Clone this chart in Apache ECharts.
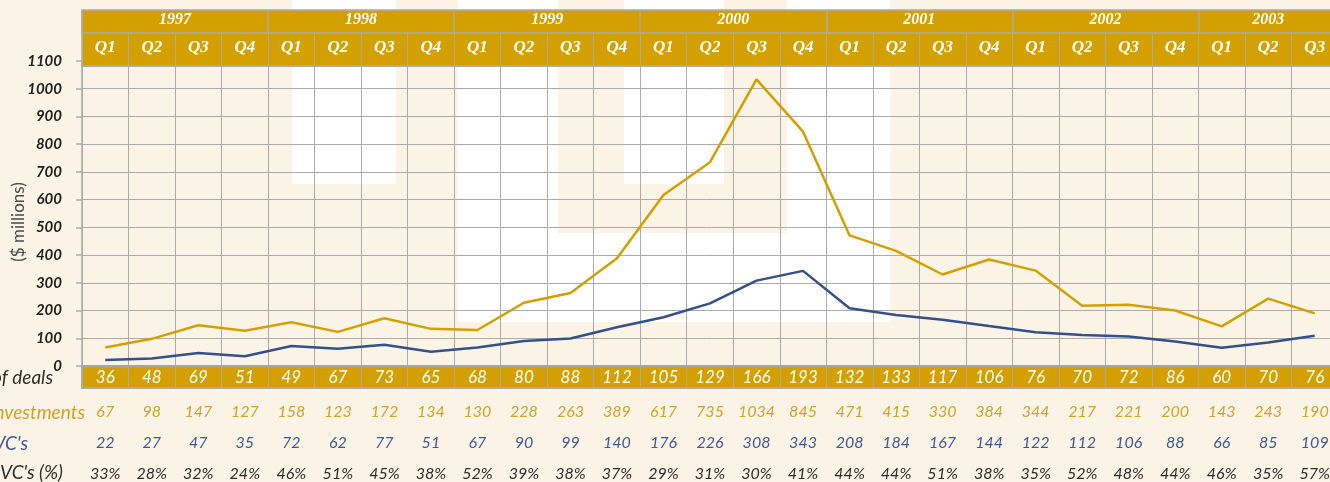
<!DOCTYPE html>
<html>
<head>
<meta charset="utf-8">
<title>Investments by quarter, 1997–2003</title>
<script src="https://cdn.jsdelivr.net/npm/echarts@6/dist/echarts.min.js"></script>
<style>
  html, body { margin: 0; padding: 0; background: #fbf4e6; }
  #chart { width: 1330px; height: 482px; }
</style>
</head>
<body>
<div id="chart"></div>
<script>
// ---- data -------------------------------------------------------------
const years = ['1997', '1998', '1999', '2000', '2001', '2002', '2003'];
const quarterLabels = [
  'Q1','Q2','Q3','Q4', 'Q1','Q2','Q3','Q4', 'Q1','Q2','Q3','Q4',
  'Q1','Q2','Q3','Q4', 'Q1','Q2','Q3','Q4', 'Q1','Q2','Q3','Q4',
  'Q1','Q2','Q3'
];
const deals = [36, 48, 69, 51, 49, 67, 73, 65, 68, 80, 88, 112, 105, 129, 166, 193,
               132, 133, 117, 106, 76, 70, 72, 86, 60, 70, 76];
const investments = [67, 98, 147, 127, 158, 123, 172, 134, 130, 228, 263, 389, 617, 735, 1034, 845,
                     471, 415, 330, 384, 344, 217, 221, 200, 143, 243, 190];
const vcInvestments = [22, 27, 47, 35, 72, 62, 77, 51, 67, 90, 99, 140, 176, 226, 308, 343,
                       208, 184, 167, 144, 122, 112, 106, 88, 66, 85, 109];
const vcShare = [33, 28, 32, 24, 46, 51, 45, 38, 52, 39, 38, 37, 29, 31, 30, 41,
                 44, 44, 51, 38, 35, 52, 48, 44, 46, 35, 57];
const rowLabels = ['Number of deals', 'Investments', "Israeli VC's", "Israeli VC's (%)"];
const unitLabel = '($ millions)';

// ---- styling ----------------------------------------------------------
const GOLD = '#d4a000';
const GOLD_TEXT = '#d3a227';
const BLUE = '#33508c';
const BLUE_TEXT = '#3d5b97';
const DARK = '#2e2e2e';
const LINE = '#ababab';
const SANS = 'Lato, "Open Sans", sans-serif';
const SERIF = '"Liberation Serif", "DejaVu Serif", serif';

const GRID = { left: 82, top: 61, right: -8, bottom: 116 };
const TOTAL_W = 1330 - GRID.left - GRID.right;

// year spans (in quarter units) derived from the quarter labels
const yearStarts = [];
quarterLabels.forEach((q, i) => { if (q === 'Q1') yearStarts.push(i); });
const yearEnds = yearStarts.slice(1).concat(quarterLabels.length);
const yearCenters = yearStarts.map((s, i) => (s + yearEnds[i]) / 2);

// ---- background panels ------------------------------------------------
const whitePanels = [
  [292, 0, 104, 184],
  [458, 0, 100, 322],
  [624, 0, 100, 184],
  [787, 0, 103, 322],
  [458, 233, 432, 89]
];

const graphics = [];
whitePanels.forEach(([x, y, w, h]) => {
  graphics.push({ type: 'rect', z: -10, silent: true,
    shape: { x, y, width: w, height: h }, style: { fill: '#ffffff' } });
});
// header band (years + quarters)
graphics.push({ type: 'rect', z: 1, silent: true,
  shape: { x: GRID.left, y: 10, width: TOTAL_W, height: 56 },
  style: { fill: GOLD, stroke: LINE, lineWidth: 1.5 } });
// deals band under the plot
graphics.push({ type: 'rect', z: -1, silent: true,
  shape: { x: GRID.left, y: 366, width: TOTAL_W, height: 22 },
  style: { fill: GOLD, stroke: LINE, lineWidth: 2 } });

// unit caption along the value axis
graphics.push({ type: 'text', z: 5, silent: true, x: 19, y: 222, rotation: Math.PI / 2,
  style: { text: unitLabel, fill: '#4a4a4a', font: '17px ' + SANS,
           align: 'center', verticalAlign: 'middle' } });

// row captions at the left
const rowCaption = [
  { text: rowLabels[0], x: 53, y: 378, fill: DARK },
  { text: rowLabels[1], x: 85, y: 413, fill: GOLD_TEXT },
  { text: rowLabels[2], x: 28, y: 444, fill: BLUE_TEXT },
  { text: rowLabels[3], x: 63, y: 473, fill: DARK }
];
rowCaption.forEach(r => {
  graphics.push({ type: 'text', z: 5, silent: true, x: r.x, y: r.y,
    style: { text: r.text, fill: r.fill, font: 'italic 19px ' + SANS,
             align: 'right', verticalAlign: 'middle' } });
});

// helper for the value rows under the chart
function tableRow(values, offset, color, fmt) {
  return {
    type: 'category', position: 'bottom', offset: offset, gridIndex: 0,
    data: values.map(fmt),
    axisLine: { show: false }, axisTick: { show: false }, splitLine: { show: false },
    axisLabel: { interval: 0, margin: 0, color: color, fontStyle: 'italic',
                 fontFamily: SANS, fontSize: 16 }
  };
}

const option = {
  animation: false,
  backgroundColor: 'transparent',
  grid: { left: GRID.left, top: GRID.top, right: GRID.right, bottom: GRID.bottom,
          containLabel: false, outerBoundsMode: 'none' },
  graphic: { elements: graphics },
  xAxis: [
    { // plot axis; labels show number of deals inside the gold band
      type: 'category', position: 'bottom', data: deals.map(String), z: 0,
      axisLine: { lineStyle: { color: '#a4a4a4', width: 2.5 } },
      axisTick: { show: true, interval: 0, length: 22, lineStyle: { color: LINE, width: 1 } },
      axisLabel: { interval: 0, margin: 3, color: '#ffffff', fontStyle: 'italic',
                   fontFamily: SANS, fontSize: 17 },
      splitLine: { show: true, interval: 0, lineStyle: { color: LINE, width: 1 } }
    },
    { // quarter headers
      type: 'category', position: 'top', offset: -5, data: quarterLabels, z: 3,
      axisLine: { lineStyle: { color: LINE, width: 2 } },
      axisTick: { show: true, interval: 0, length: 33, lineStyle: { color: LINE, width: 1 } },
      axisLabel: { interval: 0, margin: 10, color: '#ffffff', fontStyle: 'italic',
                   fontWeight: 'bold', fontFamily: SERIF, fontSize: 17 },
      splitLine: { show: false }
    },
    { // year headers, spanning their quarters
      type: 'value', position: 'top', offset: 28, min: 0, max: quarterLabels.length, z: 3,
      axisLine: { show: true, lineStyle: { color: LINE, width: 1.5 } },
      axisTick: { show: true, length: 23, customValues: yearStarts,
                  lineStyle: { color: LINE, width: 1.5 } },
      axisLabel: { show: true, margin: 5, customValues: yearCenters,
                   formatter: v => years[yearCenters.indexOf(v)] || '',
                   color: '#ffffff', fontStyle: 'italic', fontWeight: 'bold',
                   fontFamily: SERIF, fontSize: 16 },
      splitLine: { show: false }
    },
    tableRow(investments, 38, GOLD_TEXT, String),
    tableRow(vcInvestments, 69, BLUE_TEXT, String),
    tableRow(vcShare, 100, DARK, v => v + '%')
  ],
  yAxis: {
    type: 'value', min: 0, max: 1100, interval: 100,
    axisLine: { show: true, lineStyle: { color: LINE, width: 1.5 } },
    axisTick: { show: true, length: 6, lineStyle: { color: LINE, width: 1.5 } },
    axisLabel: { margin: 20, color: '#1e1e1e', fontStyle: 'italic', fontWeight: 'bold',
                 fontFamily: SANS, fontSize: 15, formatter: v => String(v) },
    splitLine: { show: true, showMaxLine: false, lineStyle: { color: LINE, width: 1 } }
  },
  series: [
    { name: 'Investments', type: 'line', data: investments, xAxisIndex: 0, yAxisIndex: 0,
      symbol: 'none', lineStyle: { color: GOLD, width: 2.5 }, itemStyle: { color: GOLD }, z: 2 },
    { name: "Israeli VC's", type: 'line', data: vcInvestments, xAxisIndex: 0, yAxisIndex: 0,
      symbol: 'none', lineStyle: { color: BLUE, width: 2.5 }, itemStyle: { color: BLUE }, z: 2 }
  ]
};

const chart = echarts.init(document.getElementById('chart'));
chart.setOption(option);
</script>
</body>
</html>
